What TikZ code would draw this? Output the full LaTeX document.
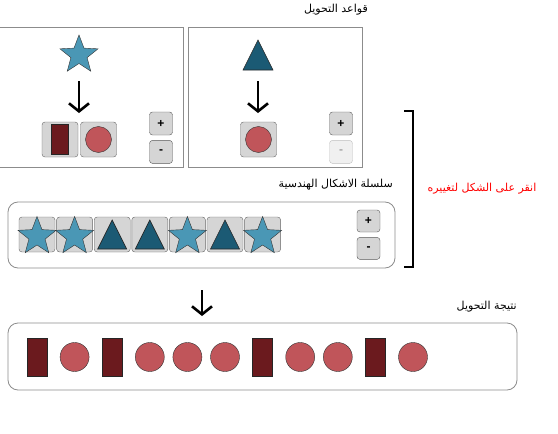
\documentclass[tikz,border=0pt]{standalone}
\usepackage{fontspec}
\setsansfont{Liberation Sans}
\newfontfamily\arabicfont[Script=Arabic]{DejaVu Sans}
\TeXXeTstate=1
\usetikzlibrary{arrows.meta,shapes.geometric,positioning,calc}
\usepackage{xcolor}
\definecolor{stellaC}{RGB}{74,151,181}
\definecolor{triangC}{RGB}{27,90,116}
\definecolor{rettC}{RGB}{107,26,30}
\definecolor{cerchioC}{RGB}{192,85,90}
\definecolor{tesseraC}{RGB}{213,213,213}
\definecolor{bordoC}{RGB}{140,140,140}

\begin{document}
\begin{tikzpicture}[x=1pt,y=-1pt,every node/.style={font=\small},
	pannello/.style={draw=bordoC,line width=0.8pt},
	etichetta/.style={font=\arabicfont\fontsize{11}{13}\selectfont,inner sep=0pt},
	tessera/.style={draw=black!60,fill=tesseraC,rounded corners=3pt,minimum width=36pt,minimum height=35pt,inner sep=0pt},
	stella/.style={star,star points=5,star point ratio=2.35,draw=black!80,fill=stellaC,minimum size=40pt,inner sep=0pt},
	triangolo/.style={draw=black!85,fill=triangC,line width=0.6pt},
	rett/.style={draw=black!85,fill=rettC,minimum width=#1,inner sep=0pt},
	cerchio/.style={circle,draw=black!80,fill=cerchioC,minimum size=#1,inner sep=0pt},
	bottone/.style={draw=black!65,fill=tesseraC,rounded corners=3pt,minimum width=23pt,minimum height=23pt,inner sep=0pt,font=\sffamily\bfseries\large},
	spento/.style={draw=black!25,fill=black!6,text=black!35},
	freccia/.style={-{Straight Barb[length=8pt,width=20pt]},line width=2.6pt}]
	\useasboundingbox (0,0) rectangle (558,434);
	
	% Regole di trasformazione
	\node[etichetta,anchor=east] (titoloRegole) at (368,10) {\beginR قواعد التحويل\endR};
	\draw[pannello] (-5,27) rectangle (183,167);
	\draw[pannello] (188,27) rectangle (362,167);
	
	% Regola stella
	\node[stella] (stellaA) at (79,55) {};
	\coordinate (fA1) at (79,81);
	\coordinate (fA2) at (79,113);
	\draw[freccia] (fA1) -- (fA2);
	\node[tessera] (tA1) at (60,139.5) {};
	\node[tessera] (tA2) at (98.5,139.5) {};
	\node[rett=17pt,minimum height=30pt] (rA) at (tA1) {};
	\node[cerchio=26pt] (cA) at (tA2) {};
	\node[bottone] (piuA) at (161,123.5) {+};
	\node[bottone,below=5pt of piuA] (menoA) {-};
	
	% Regola triangolo
	\coordinate (triB) at (258,55);
	\draw[triangolo] ($(triB)+(-15,15)$) -- ++(30,0) -- ++(-15,-30) -- cycle;
	\coordinate (fB1) at (258,81);
	\coordinate (fB2) at (258,113);
	\draw[freccia] (fB1) -- (fB2);
	\node[tessera] (tB1) at (258.5,139.5) {};
	\node[cerchio=26pt] (cB) at (tB1) {};
	\node[bottone] (piuB) at (341,123.5) {+};
	\node[bottone,spento,below=5pt of piuB] (menoB) {-};
	
	% Sequenza di forme
	\node[etichetta,anchor=east] (titoloSeq) at (393,185) {\beginR سلسلة الاشكال الهندسية\endR};
	\draw[pannello,rounded corners=10pt] (8,202) rectangle (395,268);
	\foreach \i in {1,...,7}
		\node[tessera] (s\i) at ({37+37.6*(\i-1)},234.5) {};
	\foreach \i in {1,2,5,7}
		\node[stella] (st\i) at ($(s\i)+(0,2)$) {};
	\foreach \i in {3,4,6}
		\draw[triangolo] ($(s\i)+(-14.5,14.5)$) -- ++(29,0) -- ++(-14.5,-29) -- cycle;
	\node[bottone,minimum height=22pt] (piuS) at (368.5,221) {+};
	\node[bottone,minimum height=22pt,below=5pt of piuS] (menoS) {-};
	
	% Parentesi e suggerimento
	\draw[line width=2pt] (404,111) -- (413,111) -- (413,267) -- (404,267);
	\node[etichetta,text=red] (suggerimento) at (482,189) {\beginR انقر على الشكل لتغييره\endR};
	
	% Risultato
	\coordinate (fC1) at (202,290);
	\coordinate (fC2) at (202,316);
	\draw[freccia] (fC1) -- (fC2);
	\node[etichetta,anchor=east] (titoloRis) at (517,307) {\beginR نتيجة التحويل\endR};
	\draw[pannello,rounded corners=10pt] (8,323) rectangle (517,390);
	\foreach \i in {1,3,7,10}
		\node[rett=20pt,minimum height=38pt] (r\i) at ({37+37.6*(\i-1)},357) {};
	\foreach \i in {2,4,5,6,8,9,11}
		\node[cerchio=29pt] (c\i) at ({37+37.6*(\i-1)},357) {};
\end{tikzpicture}
\end{document}
